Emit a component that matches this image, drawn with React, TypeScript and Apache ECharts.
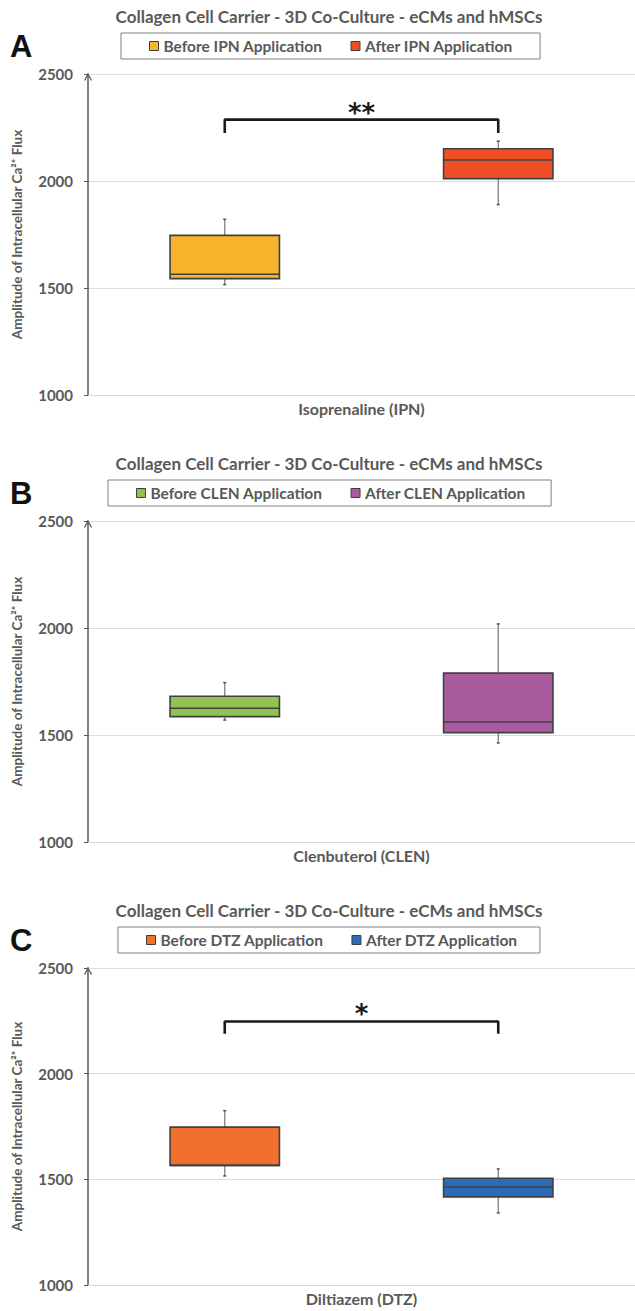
import React, { useEffect, useRef } from 'react';
import * as echarts from 'echarts';

// ---------- data ----------
const chartTitle = 'Collagen Cell Carrier - 3D Co-Culture - eCMs and hMSCs';
const panelLetters = ['A', 'B', 'C'];
const xAxisNames = ['Isoprenaline (IPN)', 'Clenbuterol (CLEN)', 'Diltiazem (DTZ)'];
const beforeNames = ['Before IPN Application', 'Before CLEN Application', 'Before DTZ Application'];
const afterNames = ['After IPN Application', 'After CLEN Application', 'After DTZ Application'];
const yAxisName = 'Amplitude of Intracellular Ca²⁺ Flux';

// [min, Q1, median, Q3, max]
const ipnBefore = [1516, 1544, 1564, 1746, 1821];
const ipnAfter = [1890, 2011, 2098, 2151, 2186];
const clenBefore = [1570, 1586, 1625, 1681, 1745];
const clenAfter = [1463, 1511, 1561, 1789, 2019];
const dtzBefore = [1516, 1566, 1566, 1747, 1825];
const dtzAfter = [1341, 1417, 1464, 1505, 1549];

const yMin = 1000;
const yMax = 2500;
const yInterval = 500;

const significanceMarks = ['**', '', '*'];
const bracketTops = [2287, 0, 2247];
const bracketFeet = [2224, 0, 2189];

// ---------- styles ----------
const beforeColors = ['#F6B32C', '#92C24F', '#F2702E'];
const afterColors = ['#EE4F25', '#A85B9F', '#2A6BB7'];
const panelTops = [0, 447, 894];
const panelHeights = [447, 447, 417];
const legendLefts = [121, 108, 118];
const legendRightPads = [27, 25, 22];
const textGray = '#595959';
const FONT = 'Lato';

const beforeData = [ipnBefore, clenBefore, dtzBefore];
const afterData = [ipnAfter, clenAfter, dtzAfter];

function boxRenderer(params: any, api: any) {
  const x = api.value(0);
  const lo = api.coord([x, api.value(1)]);
  const q1 = api.coord([x, api.value(2)]);
  const med = api.coord([x, api.value(3)]);
  const q3 = api.coord([x, api.value(4)]);
  const hi = api.coord([x, api.value(5)]);
  const bw = api.size([1, 0])[0] * 0.4;
  const cx = lo[0];
  const color = api.visual('color');
  const whisker = { stroke: '#808080', lineWidth: 1.3 };
  const cap = { stroke: '#505050', lineWidth: 1.5 };
  return {
    type: 'group',
    children: [
      { type: 'line', shape: { x1: cx, y1: hi[1], x2: cx, y2: q3[1] }, style: whisker },
      { type: 'line', shape: { x1: cx, y1: q1[1], x2: cx, y2: lo[1] }, style: whisker },
      { type: 'line', shape: { x1: cx - 1.5, y1: hi[1], x2: cx + 1.5, y2: hi[1] }, style: cap },
      { type: 'line', shape: { x1: cx - 1.5, y1: lo[1], x2: cx + 1.5, y2: lo[1] }, style: cap },
      {
        type: 'rect',
        shape: { x: cx - bw / 2, y: q3[1], width: bw, height: q1[1] - q3[1] },
        style: { fill: color, stroke: '#404040', lineWidth: 1.6 },
      },
      {
        type: 'line',
        shape: { x1: cx - bw / 2, y1: med[1], x2: cx + bw / 2, y2: med[1] },
        style: { stroke: '#404040', lineWidth: 1.6 },
      },
    ],
  };
}

function Panel({ idx }: { idx: number }) {
  const ref = useRef<HTMLDivElement>(null);
  useEffect(() => {
    if (!ref.current) return;
    const chart = echarts.init(ref.current, undefined, { renderer: 'svg' });
    const bName = beforeNames[idx];
    const aName = afterNames[idx];
    const series: any[] = [
      {
        name: bName,
        type: 'custom',
        renderItem: boxRenderer,
        itemStyle: { color: beforeColors[idx] },
        encode: { x: 0, y: [1, 2, 3, 4, 5] },
        data: [[0, ...beforeData[idx]]],
        z: 3,
      },
      {
        name: aName,
        type: 'custom',
        renderItem: boxRenderer,
        itemStyle: { color: afterColors[idx] },
        encode: { x: 0, y: [1, 2, 3, 4, 5] },
        data: [[1, ...afterData[idx]]],
        z: 3,
      },
    ];
    const hasSig = significanceMarks[idx] !== '';
    if (hasSig) {
      series.push({
        name: 'significance',
        type: 'line',
        symbol: 'none',
        lineStyle: { color: '#1a1a1a', width: 2.6 },
        itemStyle: { color: '#1a1a1a' },
        data: [
          [0, bracketFeet[idx]],
          [0, bracketTops[idx]],
          [1, bracketTops[idx]],
          [1, bracketFeet[idx]],
        ],
        z: 4,
      });
    }
    const baseGraphic: any[] = [
      {
        type: 'text',
        id: 'title',
        x: 329,
        y: 16,
        style: {
          text: chartTitle,
          font: `bold 17px ${FONT}`,
          fill: textGray,
          align: 'center',
          verticalAlign: 'middle',
        },
      },
      {
        type: 'text',
        id: 'letter',
        x: 10,
        y: 46,
        style: {
          text: panelLetters[idx],
          font: 'bold 31px "Liberation Sans"',
          fill: '#111111',
          align: 'left',
          verticalAlign: 'middle',
        },
      },
      {
        type: 'polyline',
        id: 'arrow',
        shape: { points: [[84.5, 80.5], [88, 74], [91.5, 80.5]] },
        style: { stroke: textGray, lineWidth: 1.3, fill: 'none' },
      },
    ];
    const option: any = {
      animation: false,
      textStyle: { fontFamily: FONT },
      grid: { left: 88, top: 74, width: 555, height: 321 },
      legend: {
        data: [bName, aName],
        left: legendLefts[idx],
        top: 33,
        padding: [5, legendRightPads[idx], 5, 28],
        itemGap: 28,
        itemWidth: 9,
        itemHeight: 9,
        icon: 'rect',
        borderColor: '#808080',
        borderWidth: 1,
        selectedMode: false,
        itemStyle: { borderColor: '#3f3f3f', borderWidth: 1 },
        textStyle: { fontFamily: FONT, fontWeight: 'bold', fontSize: 15.5, color: textGray },
      },
      xAxis: {
        type: 'category',
        data: [bName, aName],
        axisLabel: { show: false },
        axisTick: { show: false },
        axisLine: { lineStyle: { color: '#d9d9d9' } },
        splitLine: { show: false },
        name: xAxisNames[idx],
        nameLocation: 'middle',
        nameGap: 5,
        nameTextStyle: { fontFamily: FONT, fontWeight: 'bold', fontSize: 16, color: textGray },
      },
      yAxis: {
        type: 'value',
        min: yMin,
        max: yMax,
        interval: yInterval,
        axisLine: { show: true, lineStyle: { color: textGray, width: 1.5 } },
        axisTick: { show: true, length: 4, lineStyle: { color: textGray } },
        axisLabel: {
          margin: 15,
          fontFamily: FONT,
          fontWeight: 'bold',
          fontSize: 15,
          color: textGray,
          formatter: (v: number) => String(v),
        },
        splitLine: { lineStyle: { color: '#dcdcdc', width: 1 } },
        name: yAxisName,
        nameLocation: 'middle',
        nameGap: 64,
        nameTextStyle: { fontFamily: FONT, fontWeight: 'bold', fontSize: 13.5, color: textGray },
      },
      series,
      graphic: baseGraphic,
    };
    chart.setOption(option);
    if (hasSig) {
      const p0 = chart.convertToPixel({ gridIndex: 0 }, [0, bracketTops[idx]]) as number[];
      const p1 = chart.convertToPixel({ gridIndex: 0 }, [1, bracketTops[idx]]) as number[];
      const star = {
        type: 'text',
        id: 'star',
        x: (p0[0] + p1[0]) / 2,
        y: p0[1] - 7,
        style: {
          text: significanceMarks[idx],
          font: 'bold 26px "DejaVu Sans"',
          fill: '#1a1a1a',
          align: 'center',
          verticalAlign: 'middle',
        },
      };
      chart.setOption({ graphic: [...baseGraphic, star] });
    }
    return () => chart.dispose();
  }, [idx]);
  return (
    <div
      ref={ref}
      style={{ position: 'absolute', left: 0, top: panelTops[idx], width: 635, height: panelHeights[idx] }}
    />
  );
}

export default function App() {
  return (
    <div>
      {panelLetters.map((_, i) => (
        <Panel key={i} idx={i} />
      ))}
    </div>
  );
}
